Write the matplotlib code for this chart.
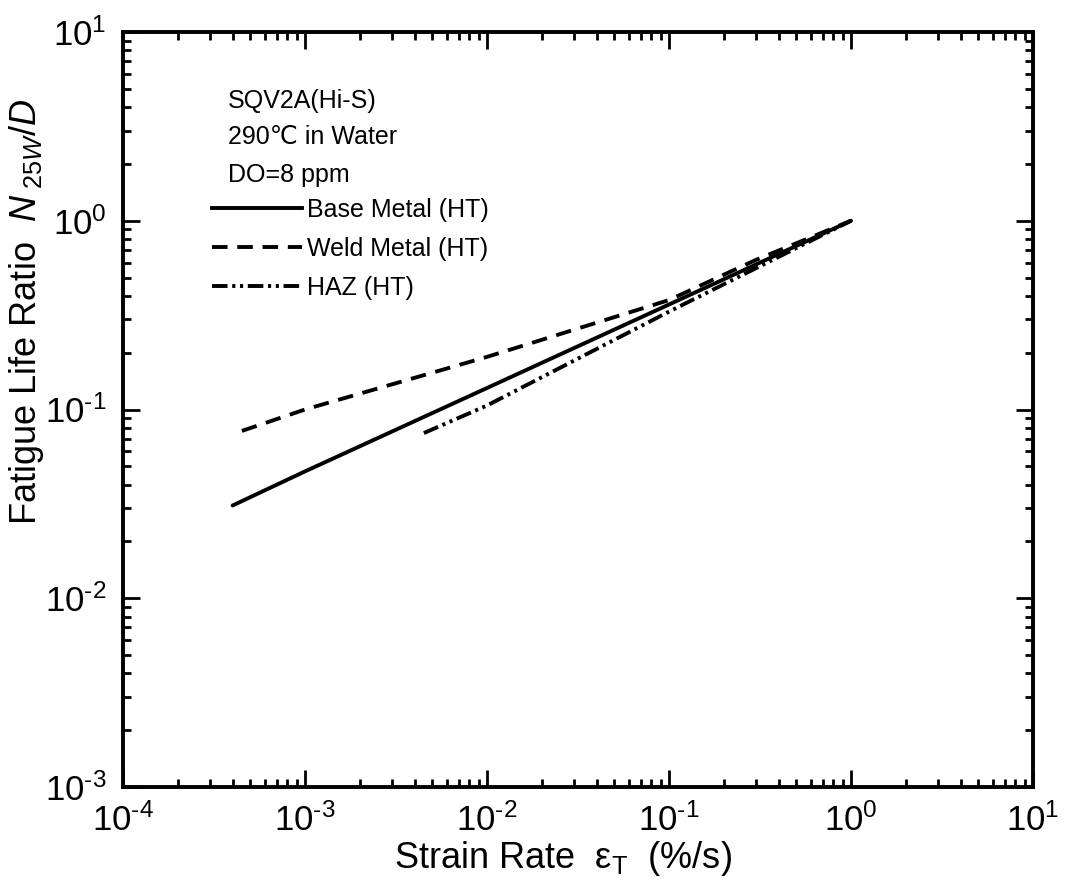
import matplotlib
matplotlib.use("Agg")
import matplotlib.pyplot as plt
import numpy as np
from matplotlib.ticker import LogLocator, NullFormatter, FuncFormatter
from matplotlib.lines import Line2D

plt.rcParams['font.family'] = ['Liberation Sans', 'DejaVu Sans']
plt.rcParams['mathtext.fontset'] = 'custom'
plt.rcParams['mathtext.rm'] = 'Liberation Sans'
plt.rcParams['mathtext.it'] = 'Liberation Sans:italic'
plt.rcParams['mathtext.bf'] = 'Liberation Sans:bold'

# Data
base_x = [4.0e-4, 1e-3, 1e-2, 1e-1, 1.0]
base_y = [0.031, 0.047, 0.13, 0.36, 1.0]
weld_x = [4.5e-4, 1e-3, 1e-2, 1e-1, 0.3, 1.0]
weld_y = [0.077, 0.1, 0.19, 0.38, 0.62, 1.0]
haz_x = [4.5e-3, 1e-2, 1e-1, 1.0]
haz_y = [0.075, 0.105, 0.33, 1.0]

series_labels = ["Base Metal (HT)", "Weld Metal (HT)", "HAZ (HT)"]
info_lines = ["SQV2A(Hi-S)", "290\u2103 in Water", "DO=8 ppm"]

W, H = 1066, 885
L, R, T, B = 123, 1033, 32, 787
fig = plt.figure(figsize=(W/100, H/100), dpi=100)
ax = fig.add_axes([L/W, 1-B/H, (R-L)/W, (B-T)/H])

lw = 2.8
ax.plot(base_x, base_y, color='black', lw=lw, ls='-', solid_capstyle='round')
ax.plot(weld_x, weld_y, color='black', lw=lw, ls=(0, (4, 2.5)))
ax.plot(haz_x, haz_y, color='black', lw=lw, ls=(0, (4, 1.2, 0.8, 1.2, 0.8, 1.2)))

ax.set_xscale('log')
ax.set_yscale('log')
ax.set_xlim(1e-4, 1e1)
ax.set_ylim(1e-3, 1e1)

def fmt(v, pos):
    e = int(round(np.log10(v)))
    return r"$10^{\text{%d}}$" % e

ax.xaxis.set_major_locator(LogLocator(base=10, numticks=10))
ax.yaxis.set_major_locator(LogLocator(base=10, numticks=10))
ax.xaxis.set_minor_locator(LogLocator(base=10, subs=range(2, 10), numticks=20))
ax.yaxis.set_minor_locator(LogLocator(base=10, subs=range(2, 10), numticks=20))
ax.xaxis.set_major_formatter(FuncFormatter(fmt))
ax.yaxis.set_major_formatter(FuncFormatter(fmt))
ax.xaxis.set_minor_formatter(NullFormatter())
ax.yaxis.set_minor_formatter(NullFormatter())

ax.tick_params(which='both', direction='in', top=True, right=True, width=2, colors='black')
ax.tick_params(which='major', length=12, labelsize=25)
ax.tick_params(axis='x', which='major', pad=12)
ax.tick_params(axis='y', which='major', pad=12)
ax.tick_params(which='minor', length=6)
for s in ax.spines.values():
    s.set_linewidth(2.8)

ax.set_xlabel("Strain Rate  $\\mathrm{\u03b5}_{\\mathrm{T}}$  (%/s)", fontsize=26, va='top')
ax.xaxis.set_label_coords((563-L)/(R-L), -(839-B)/(B-T))
ax.set_ylabel(r"Fatigue Life Ratio  $N_{\ 25W}/D$", fontsize=26)
ax.yaxis.set_label_coords((46-L)/(R-L), 1-(312-T)/(B-T))

ys = [101, 137, 175]
for t, y in zip(info_lines, ys):
    ax.text((228-L)/(R-L), 1-(y-T)/(B-T), t, transform=ax.transAxes,
            fontsize=18, va='center', ha='left')

handles = [Line2D([], [], color='black', lw=lw, ls='-'),
           Line2D([], [], color='black', lw=lw, ls=(0, (4, 2.5))),
           Line2D([], [], color='black', lw=lw, ls=(0, (4, 1.2, 0.8, 1.2, 0.8, 1.2)))]
leg = ax.legend(handles, series_labels, loc='upper left',
                bbox_to_anchor=((212-L)/(R-L), 1-(198-T)/(B-T)),
                frameon=False, fontsize=18, handlelength=3.6, handletextpad=0.2,
                labelspacing=0.6, borderaxespad=0, borderpad=0)

fig.savefig("out.png", dpi=100)
